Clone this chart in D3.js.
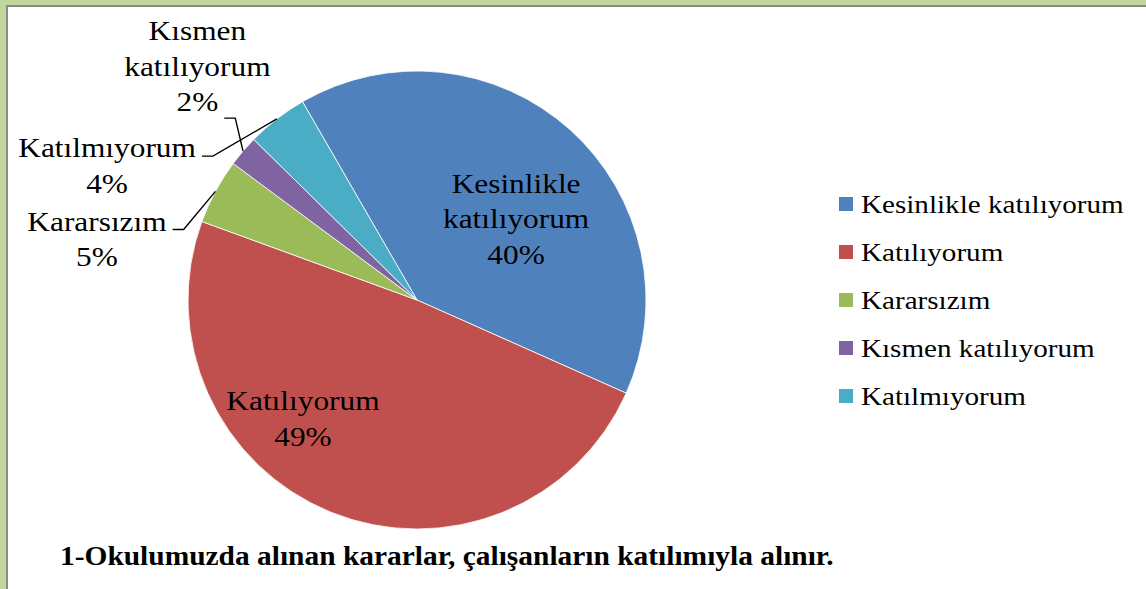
<!DOCTYPE html>
<html>
<head>
<meta charset="utf-8">
<script src="https://cdn.jsdelivr.net/npm/d3@7"></script>
<style>
  body { margin: 0; background: #fff; }
  svg { display: block; }
</style>
</head>
<body>
<svg></svg>
<script>
// answers, in legend order
const categories = [
  'Kesinlikle katılıyorum',
  'Katılıyorum',
  'Kararsızım',
  'Kısmen katılıyorum',
  'Katılmıyorum'
];
const shares = [40.0, 48.9, 4.6, 2.2, 4.3];
const title = '1-Okulumuzda alınan kararlar, çalışanların katılımıyla alınır.';

const colors = ['#4f81bd', '#c0504d', '#9bbb59', '#8064a2', '#4bacc6'];
const serif = "'Liberation Serif', Tinos, 'Times New Roman', serif";

const width = 1146;
const height = 589;
const cx = 417;
const cy = 300;
const radius = 229;
const rad = deg => (deg * Math.PI) / 180;

// label placement: angle shift from slice middle (deg), distance from center
const labelLayout = [
  { shift: 8.4, dist: 128.6, lines: ['Kesinlikle', 'katılıyorum'] },
  { shift: 22, dist: 164.1, lines: ['Katılıyorum'] },
  { shift: -17.4, dist: 325.9, lines: ['Kararsızım'], leader: { line: 0, dy: -1 } },
  { shift: 6.3, dist: 321.2, lines: ['Kısmen', 'katılıyorum'], leader: { line: 2, dy: 7 } },
  { shift: -28.7, dist: 338.1, lines: ['Katılmıyorum'], leader: { line: 0, dy: -1 } }
];

const svg = d3.select('svg').attr('width', width).attr('height', height);

// frame
svg.append('rect').attr('width', width).attr('height', height).attr('fill', '#c3d69b');
svg.append('rect').attr('x', 6).attr('y', 5).attr('width', width).attr('height', height).attr('fill', '#8a8a8a');
svg.append('rect').attr('x', 8).attr('y', 7).attr('width', width).attr('height', height).attr('fill', '#fff');

const pie = d3
  .pie()
  .sort(null)
  .value(d => d)
  .startAngle(rad(-30))
  .endAngle(rad(330));

const arcs = pie(shares);
const arc = d3.arc().innerRadius(0).outerRadius(radius);

const g = svg.append('g').attr('transform', `translate(${cx},${cy})`);

g.selectAll('path')
  .data(arcs)
  .enter()
  .append('path')
  .attr('d', arc)
  .attr('fill', (d, i) => colors[i])
  .attr('stroke', '#fff')
  .attr('stroke-width', 0.8);

const polar = (angle, r) => [r * Math.sin(angle), -r * Math.cos(angle)];

// data labels
const lineHeight = 35.5;
g.selectAll('g.label')
  .data(arcs)
  .enter()
  .append('g')
  .attr('class', 'label')
  .each(function (d, i) {
    const lay = labelLayout[i];
    const mid = (d.startAngle + d.endAngle) / 2 + rad(lay.shift);
    const [x, y] = polar(mid, lay.dist);
    const lines = [...lay.lines, `${Math.round(d.value)}%`];
    const n = lines.length;
    const grp = d3.select(this);
    const texts = lines.map((t, k) => {
      const by = y + 10 + (k - (n - 1) / 2) * lineHeight;
      const txt = grp
        .append('text')
        .attr('text-anchor', 'middle')
        .attr('font-family', serif)
        .attr('font-size', 28)
        .attr('transform', `translate(${x},${by}) scale(1.12,1)`)
        .text(t);
      return { txt, by };
    });
    if (lay.leader) {
      const ln = texts[lay.leader.line];
      const w = ln.txt.node().getComputedTextLength() * 1.12;
      const ly = ln.by + lay.leader.dy;
      const x0 = x + w / 2 + 6;
      const [ex, ey] = polar((d.startAngle + d.endAngle) / 2, radius);
      grp
        .append('path')
        .attr('d', d3.line()([[x0, ly], [x0 + 11, ly], [ex, ey]]))
        .attr('fill', 'none')
        .attr('stroke', '#000')
        .attr('stroke-width', 1.4);
    }
  });

// legend
const legendY = d3.scalePoint().domain(categories).range([204, 396]);
const legend = svg
  .append('g')
  .selectAll('g')
  .data(categories)
  .enter()
  .append('g')
  .attr('transform', d => `translate(839,${legendY(d)})`);

legend
  .append('rect')
  .attr('x', 0)
  .attr('y', -7)
  .attr('width', 14)
  .attr('height', 14)
  .attr('fill', (d, i) => colors[i]);

legend
  .append('text')
  .attr('font-family', serif)
  .attr('font-size', 26)
  .attr('transform', 'translate(22,9) scale(1.12,1)')
  .text(d => d);

// question
svg
  .append('text')
  .attr('font-family', serif)
  .attr('font-size', 27)
  .attr('font-weight', 'bold')
  .attr('transform', 'translate(60,565) scale(1.09,1)')
  .text(title);
</script>
</body>
</html>
